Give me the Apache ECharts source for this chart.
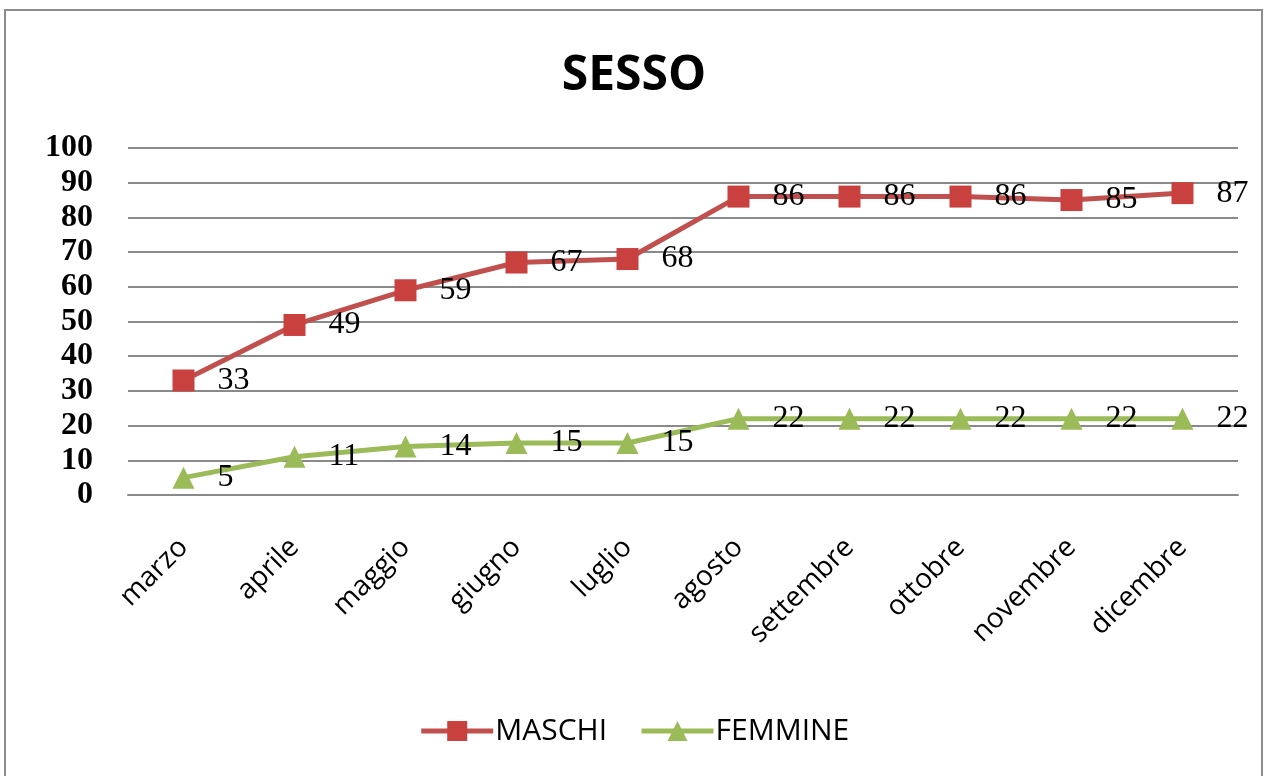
<!DOCTYPE html>
<html><head><meta charset="utf-8">
<script src="https://cdn.jsdelivr.net/npm/echarts@6/dist/echarts.min.js"></script>
<style>html,body{margin:0;padding:0;background:#fff}#c{width:1268px;height:776px}</style>
</head><body><div id="c"></div>
<script>
const categories = ['marzo','aprile','maggio','giugno','luglio','agosto','settembre','ottobre','novembre','dicembre'];
const maschi = [33,49,59,67,68,86,86,86,85,87];
const femmine = [5,11,14,15,15,22,22,22,22,22];
const seriesNames = ['MASCHI','FEMMINE'];
const titleText = 'SESSO';

const chart = echarts.init(document.getElementById('c'), null, {renderer:'canvas'});
const labelStyle = {show:true, position:'right', distance:23, color:'#000', fontFamily:'Liberation Serif', fontSize:32};
chart.setOption({
  animation:false,
  backgroundColor:'#fff',
  graphic:[{type:'rect', shape:{x:5,y:10,width:1257,height:790}, style:{fill:'none', stroke:'#8c8c8c', lineWidth:2}, silent:true}],
  title:{text:titleText, left:'center', top:47, textStyle:{fontFamily:'Open Sans', fontWeight:'bold', fontSize:48, color:'#000'}},
  legend:{top:711, left:'center', itemWidth:72, itemHeight:25, itemGap:32,
    lineStyle:{width:5},
    textStyle:{fontFamily:'Open Sans', fontSize:30, color:'#000', padding:[0,0,0,-3]},
    data:seriesNames},
  grid:{left:128, right:30, top:148, bottom:281},
  xAxis:{type:'category', data:categories, boundaryGap:true,
    axisLine:{show:true, lineStyle:{color:'#8a8a8a', width:2}}, axisTick:{show:false},
    axisLabel:{rotate:45, margin:48, fontFamily:'Open Sans', fontSize:28, color:'#000', interval:0}},
  yAxis:{type:'value', min:0, max:100, interval:10,
    axisLine:{show:false}, axisTick:{show:false},
    splitLine:{lineStyle:{color:'#8a8a8a', width:2}},
    axisLabel:{margin:35, fontFamily:'Liberation Serif', fontWeight:'bold', fontSize:32, color:'#000'}},
  series:[
    {name:seriesNames[0], type:'line', data:maschi, symbol:'rect', symbolSize:22,
      lineStyle:{color:'#c0504d', width:5}, itemStyle:{color:'#c8413f'}, label:labelStyle},
    {name:seriesNames[1], type:'line', data:femmine, symbol:'triangle', symbolSize:22,
      lineStyle:{color:'#9bbb59', width:5}, itemStyle:{color:'#9bbb59'}, label:labelStyle}
  ]
});
</script></body></html>
